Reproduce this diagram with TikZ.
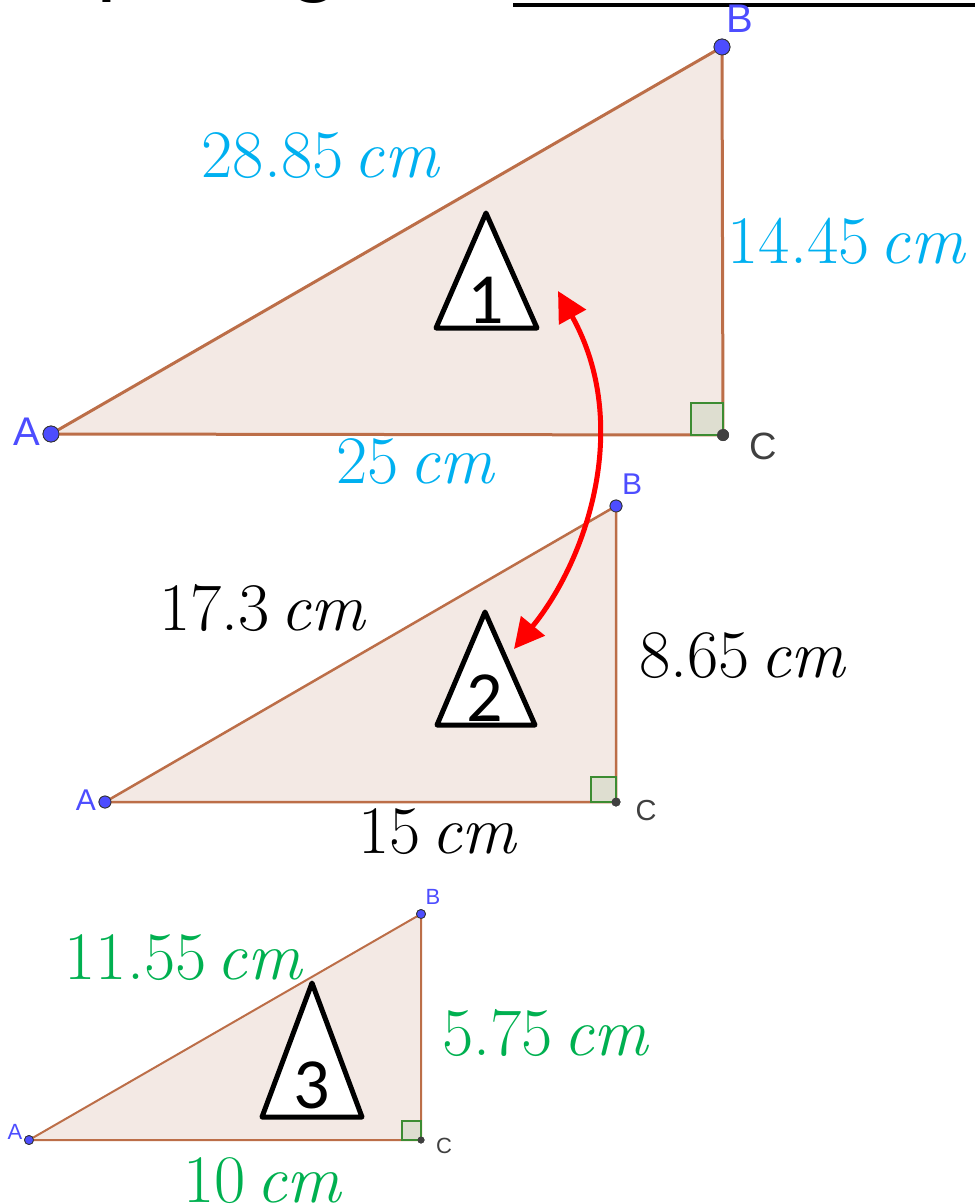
\documentclass[tikz,border=0pt]{standalone}
\usepackage{fontspec}
\usetikzlibrary{arrows.meta}
\newfontfamily\ptfont{Liberation Sans}
\newfontfamily\numfont{Carlito}
\definecolor{edgebrown}{RGB}{188,110,72}
\definecolor{fillbrown}{RGB}{243,233,228}
\definecolor{ptblue}{RGB}{77,77,255}
\definecolor{ptgray}{RGB}{64,64,64}
\definecolor{sqgreen}{RGB}{60,140,50}
\definecolor{sqfill}{RGB}{222,222,208}
\definecolor{cyanlbl}{RGB}{0,176,240}
\definecolor{greenlbl}{RGB}{0,176,80}
\newcommand{\cmlen}[1]{#1\kern0.15em\textit{cm}}

\begin{document}
\begin{tikzpicture}[x=1pt,y=-1pt,
  tri/.style={draw=edgebrown,fill=fillbrown,line join=round},
  sq/.style={draw=sqgreen,fill=sqfill,line width=2pt},
  pt/.style={circle,draw=black!80,fill=ptblue,inner sep=0pt,line width=0.8pt},
  ptc/.style={circle,fill=ptgray,inner sep=0pt},
  lbl/.style={font=\ptfont\fontsize{#1}{#1}\selectfont,inner sep=0pt},
  dim/.style={font=\fontsize{68}{68}\selectfont,anchor=base,inner sep=0pt},
  sym/.style={draw=black,fill=white,line width=5pt,line join=round},
  symnum/.style={font=\numfont\fontsize{72}{72}\selectfont,inner sep=0pt},
  ar/.style={{Triangle[length=30pt,width=30pt]}-{Triangle[length=30pt,width=30pt]},red,line width=5pt}]
  \useasboundingbox (0,0) rectangle (974,1204);
  % heading, cut off at the top
  \begin{scope}
    \clip (100,0) rectangle (112,9) (290,0) rectangle (326,10);
    \node[anchor=base west,inner sep=0pt,font=\numfont\fontsize{93}{93}\selectfont] (ttl) at (-77,-12) {Comparing};
  \end{scope}
  \coordinate (tl) at (513,5);
  \coordinate (tr) at (980,5);
  \draw[line width=4pt] (tl) -- (tr);
  % triangle 1
  \node[pt,minimum size=16pt] (A1) at (51,434) {};
  \node[pt,minimum size=16pt] (B1) at (722,47) {};
  \node[ptc,minimum size=12pt] (C1) at (723,435) {};
  \filldraw[tri,line width=3pt] (A1.center) -- (B1.center) -- (C1.center) -- cycle;
  \filldraw[sq] (C1.center) rectangle ++(-32,-32);
  \node[pt,minimum size=16pt] at (A1) {};
  \node[pt,minimum size=16pt] at (B1) {};
  \node[ptc,minimum size=12pt] at (C1) {};
  \node[lbl=40,text=ptblue] (lA1) at (27,432) {A};
  \node[lbl=40,text=ptblue] (lB1) at (740,19) {B};
  \node[lbl=38,text=ptgray] (lC1) at (763,446) {C};
  \node[dim,text=cyanlbl] (h1) at (321,177) {\cmlen{28.85}};
  \node[dim,text=cyanlbl] (v1) at (847,263) {\cmlen{14.45}};
  \node[dim,text=cyanlbl] (b1) at (416,483) {\cmlen{25}};
  % triangle 2
  \node[pt,minimum size=12pt] (A2) at (105,802) {};
  \node[pt,minimum size=12pt] (B2) at (616,506) {};
  \node[ptc,minimum size=9pt] (C2) at (616,802) {};
  \filldraw[tri,line width=2.5pt] (A2.center) -- (B2.center) -- (C2.center) -- cycle;
  \filldraw[sq] (C2.center) rectangle ++(-25,-25);
  \node[pt,minimum size=12pt] at (A2) {};
  \node[pt,minimum size=12pt] at (B2) {};
  \node[ptc,minimum size=9pt] at (C2) {};
  \node[lbl=30,text=ptblue] (lA2) at (86,800) {A};
  \node[lbl=30,text=ptblue] (lB2) at (632,484) {B};
  \node[lbl=29,text=ptgray] (lC2) at (646,811) {C};
  \node[dim] (h2) at (263,630) {\cmlen{17.3}};
  \node[dim] (v2) at (743,677) {\cmlen{8.65}};
  \node[dim] (b2) at (438,853) {\cmlen{15}};
  % triangle 3
  \node[pt,minimum size=9pt] (A3) at (29,1140) {};
  \node[pt,minimum size=9pt] (B3) at (421,914) {};
  \node[ptc,minimum size=7pt] (C3) at (421,1140) {};
  \filldraw[tri,line width=2pt] (A3.center) -- (B3.center) -- (C3.center) -- cycle;
  \filldraw[sq,line width=1.5pt] (C3.center) rectangle ++(-19,-19);
  \node[pt,minimum size=9pt] at (A3) {};
  \node[pt,minimum size=9pt] at (B3) {};
  \node[ptc,minimum size=7pt] at (C3) {};
  \node[lbl=22,text=ptblue] (lA3) at (15,1132) {A};
  \node[lbl=22,text=ptblue] (lB3) at (433,897) {B};
  \node[lbl=22,text=ptgray] (lC3) at (444,1146) {C};
  \node[dim,text=greenlbl] (h3) at (184,979) {\cmlen{11.55}};
  \node[dim,text=greenlbl] (v3) at (546,1055) {\cmlen{5.75}};
  \node[dim,text=greenlbl] (b3) at (263,1202) {\cmlen{10}};
  % numbered triangles
  \draw[sym] (486,213) -- (436,328) -- (537,328) -- cycle;
  \node[symnum] (n1) at (486,300) {1};
  \draw[sym] (485,612) -- (437,725) -- (535,725) -- cycle;
  \node[symnum] (n2) at (485,698) {2};
  \draw[sym] (312,983) -- (262,1117) -- (362,1117) -- cycle;
  \node[symnum] (n3) at (312,1085) {3};
  % red arrow
  \coordinate (s1) at (558,291);
  \coordinate (s2) at (514,649);
  \draw[ar] (s1) .. controls (633,426) and (586,561) .. (s2);
\end{tikzpicture}
\end{document}
